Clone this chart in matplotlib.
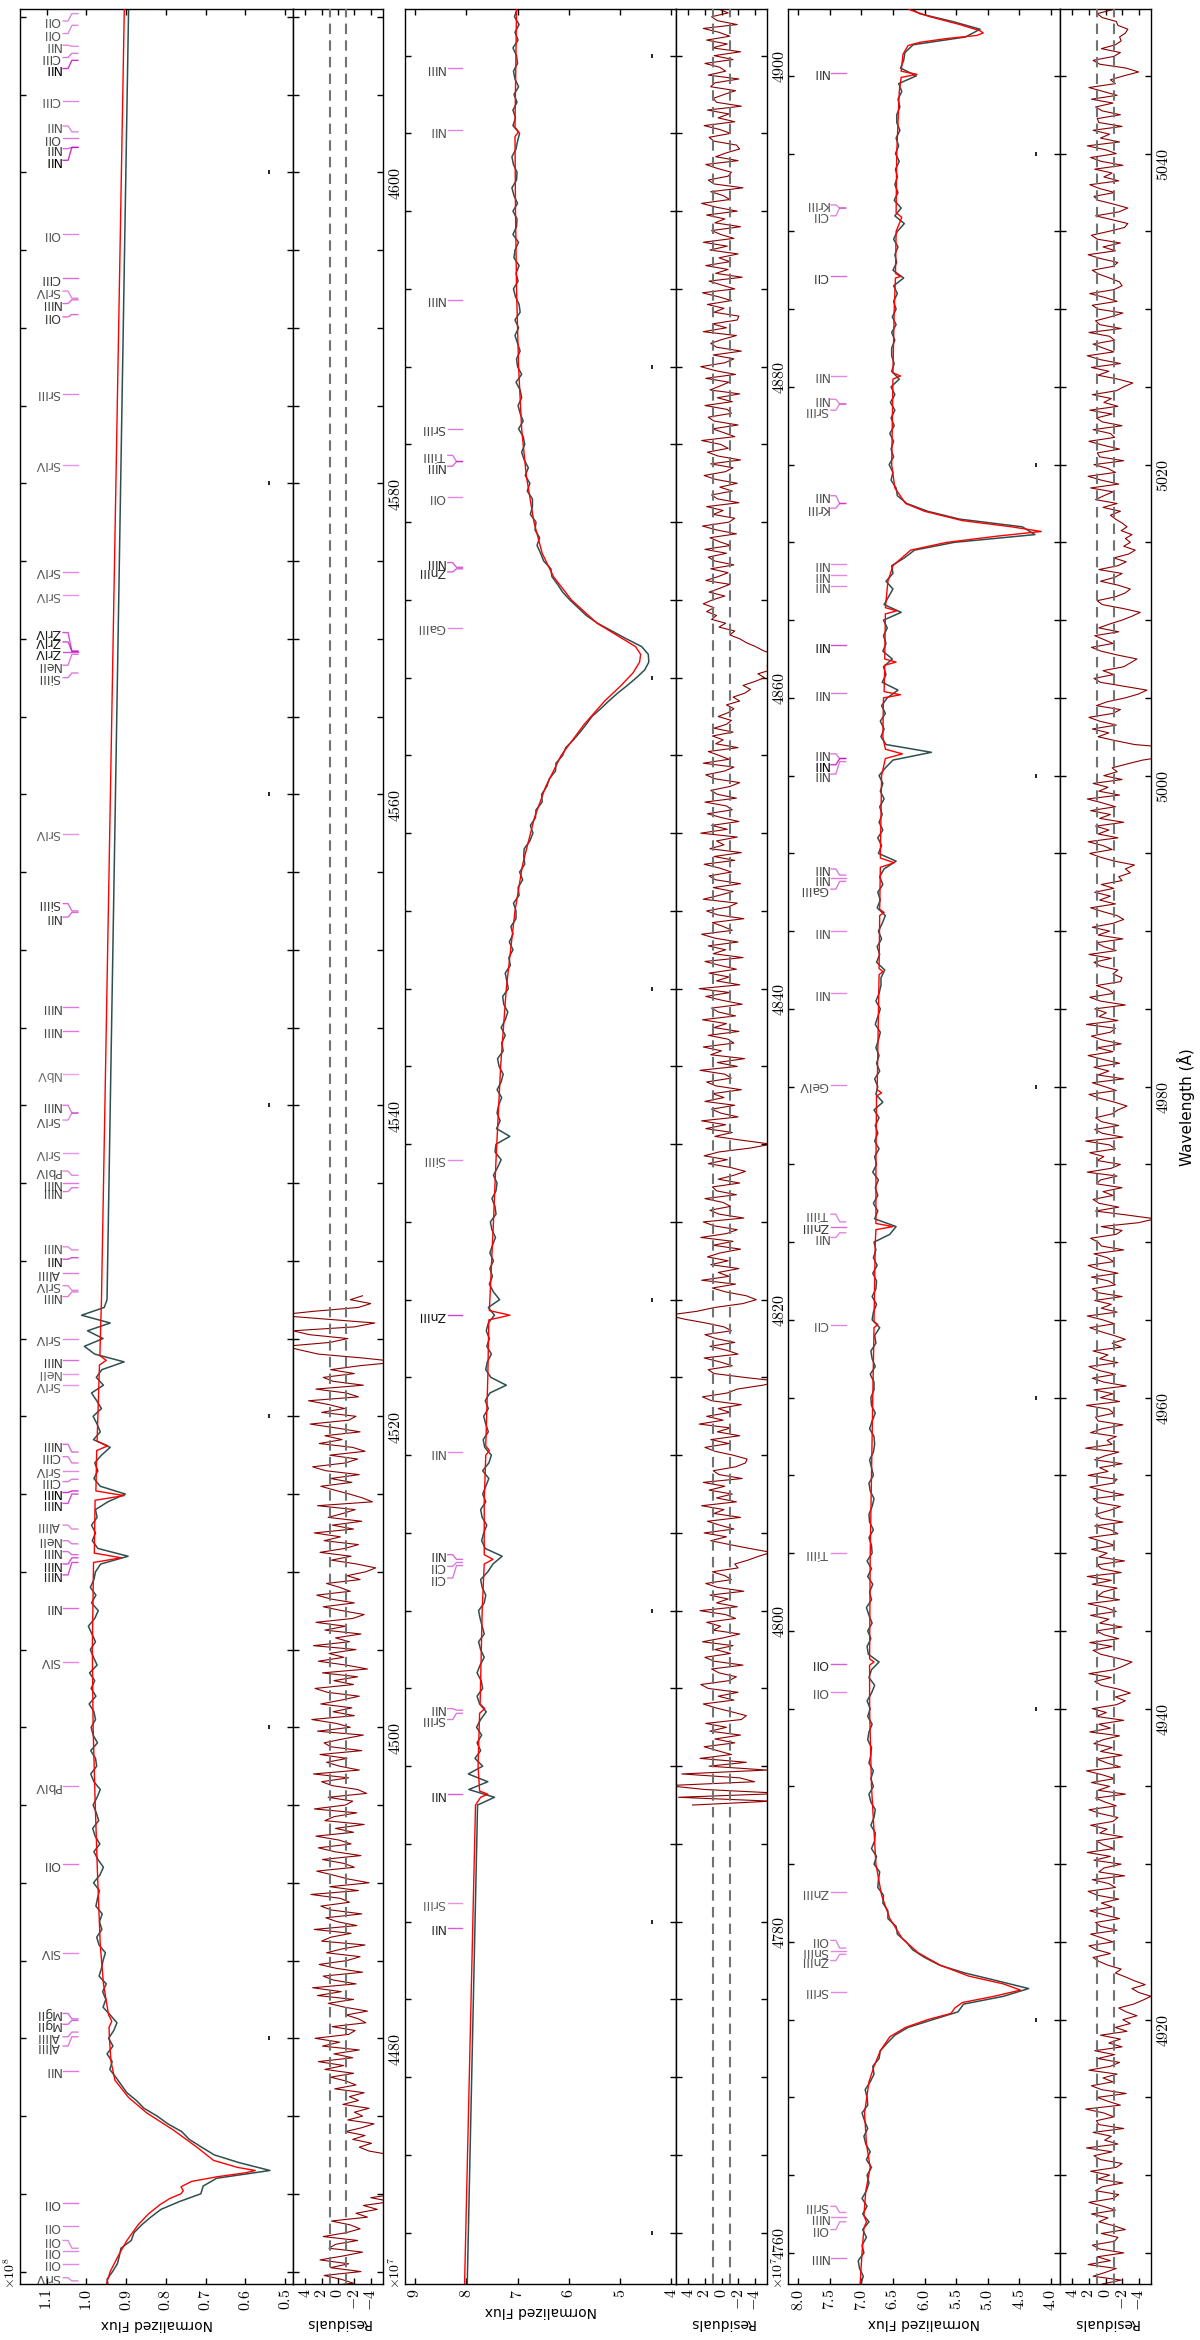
"""Spectrum fit figure: observed flux, model and residuals in three wavelength windows,
laid out in portrait (wavelength runs upwards, flux increases to the left)."""

import numpy as np
import matplotlib

matplotlib.use("Agg")
import matplotlib.pyplot as plt
import matplotlib.transforms as mtransforms
from matplotlib.ticker import MultipleLocator, FuncFormatter

plt.rcParams["font.family"] = ["DejaVu Sans"]
plt.rcParams["mathtext.fontset"] = "cm"

OBS_COLOR = "#2f4f4f"
MODEL_COLOR = "red"
RES_COLOR = "#8b0000"
ID_COLOR = "m"
FLUX_UNIT = 1e7

# wavelength window (A) and flux limits (FLUX_UNIT, left edge -> right edge) per panel
PANEL_WL = [(4464.2, 4610.5), (4756.7, 4903.0), (4903.0, 5049.3)]
FLUX_LIM = [(11.67, 4.80), (9.195, 3.91), (8.163, 3.853)]
FLUX_TICK = [1.0, 1.0, 0.5]
RES_LIM = (5.5, -5.5)

# model spectrum (smooth), FLUX_UNIT
MODEL_WL = [
    # 4463 - 4528
    4463.0, 4464.0, 4465.0, 4466.0, 4467.0, 4468.0, 4468.7, 4469.3, 4469.7, 4470.0,
    4470.2, 4470.45, 4470.8, 4471.1, 4471.35, 4471.5, 4471.7, 4472.15, 4473.0, 4474.1,
    4475.2, 4476.2, 4477.3, 4478.5, 4480.0, 4480.7, 4481.1, 4481.5, 4483.5, 4486.0,
    4490.6, 4495.3, 4500.0, 4505.0, 4510.6, 4510.9, 4511.2, 4514.6, 4514.9, 4515.2,
    4517.8, 4518.1, 4518.4, 4523.3, 4523.6, 4523.9, 4527.5,
    # 4787 - 4903
    4787.5, 4788.0, 4788.2, 4788.4, 4790.0, 4793.4, 4793.7, 4794.0, 4800.0, 4803.0,
    4803.3, 4803.6, 4807.0, 4810.0, 4810.3, 4810.6, 4815.0, 4818.7, 4819.0, 4819.3,
    4825.0, 4829.0, 4835.0, 4840.0, 4845.0, 4848.0, 4851.0, 4853.0, 4855.0, 4857.0,
    4858.5, 4859.5, 4860.3, 4861.0, 4861.5, 4862.0, 4862.7, 4863.5, 4865.0, 4866.5,
    4868.0, 4870.0, 4873.0, 4876.0, 4880.0, 4885.0, 4890.0, 4894.8, 4895.1, 4895.4,
    # 4903 - 5050
    4903.0, 4905.0, 4906.6, 4907.0, 4907.4, 4909.0, 4910.5, 4912.0, 4914.0, 4916.0,
    4917.0, 4918.0, 4918.9, 4919.5, 4920.0, 4920.4, 4920.75, 4921.1, 4921.5, 4921.9,
    4922.3, 4922.8, 4923.5, 4924.3, 4925.2, 4926.5, 4928.0, 4930.0, 4935.0, 4940.0,
    4942.8, 4943.0, 4943.2, 4950.0, 4955.0, 4960.0, 4964.5, 4964.7, 4964.9, 4970.0,
    4970.8, 4971.0, 4971.2, 4975.0, 4979.4, 4979.6, 4979.8, 4985.0, 4987.2, 4987.4,
    4987.6, 4991.0, 4991.2, 4991.4, 4994.1, 4994.4, 4994.7, 5000.0, 5001.1, 5001.4,
    5001.7, 5002.5, 5005.0, 5005.2, 5005.4, 5007.1, 5007.3, 5007.5, 5010.4, 5010.6,
    5010.8, 5012.5, 5013.5, 5014.5, 5015.0, 5015.4, 5015.7, 5016.0, 5016.4, 5017.0,
    5017.5, 5018.5, 5020.0, 5023.0, 5025.5, 5025.7, 5025.9, 5030.0, 5032.0, 5032.1,
    5032.3, 5035.0, 5035.9, 5036.2, 5040.0, 5044.0, 5044.9, 5045.1, 5045.3, 5046.4,
    5046.95, 5047.16, 5047.4, 5047.6, 5047.76, 5047.9, 5048.3, 5048.8, 5049.24, 5050.0,
]
MODEL_FLUX = [
    9.56, 9.52, 9.40, 9.20, 8.98, 8.70, 8.44, 8.15, 7.90, 7.62,
    7.56, 7.62, 7.35, 6.70, 6.00, 5.75, 6.20, 6.80, 7.22, 7.81,
    8.48, 8.94, 9.28, 9.38, 9.42, 9.43, 9.36, 9.44, 9.57, 9.65,
    9.72, 9.78, 9.83, 9.85, 9.82, 9.12, 9.80, 9.78, 9.05, 9.76,
    9.74, 9.46, 9.73, 9.67, 9.50, 9.66, 9.62,
    7.82, 7.72, 7.58, 7.74, 7.77, 7.74, 7.64, 7.73, 7.69, 7.65,
    7.48, 7.65, 7.65, 7.62, 7.55, 7.62, 7.58, 7.56, 7.15, 7.55,
    7.47, 7.42, 7.33, 7.22, 7.05, 6.90, 6.67, 6.45, 6.15, 5.70,
    5.30, 4.98, 4.75, 4.62, 4.60, 4.70, 5.05, 5.45, 5.95, 6.30,
    6.52, 6.68, 6.83, 6.92, 6.98, 7.02, 7.04, 7.05, 6.98, 7.05,
    7.02, 6.99, 6.96, 6.92, 6.96, 6.93, 6.86, 6.92, 6.95, 6.88,
    6.80, 6.70, 6.55, 6.30, 5.95, 5.58, 5.52, 5.40, 4.90, 4.48,
    4.75, 5.30, 5.75, 6.10, 6.35, 6.55, 6.68, 6.77, 6.84, 6.87,
    6.87, 6.80, 6.87, 6.86, 6.84, 6.82, 6.80, 6.74, 6.80, 6.78,
    6.77, 6.50, 6.77, 6.77, 6.76, 6.68, 6.75, 6.73, 6.72, 6.66,
    6.72, 6.71, 6.64, 6.71, 6.70, 6.48, 6.70, 6.68, 6.62, 6.35,
    6.62, 6.66, 6.65, 6.38, 6.64, 6.63, 6.45, 6.63, 6.62, 6.44,
    6.62, 6.58, 6.50, 6.22, 5.65, 4.85, 4.15, 4.62, 5.40, 6.00,
    6.30, 6.47, 6.52, 6.51, 6.50, 6.38, 6.50, 6.48, 6.46, 6.38,
    6.46, 6.45, 6.36, 6.45, 6.44, 6.40, 6.37, 6.12, 6.37, 6.34,
    6.26, 6.07, 5.65, 5.17, 5.07, 5.12, 5.44, 5.91, 6.23, 6.45,
]

# observed spectrum, two stretches sampled every 0.5 A (FLUX_UNIT)
OBS_STEP = 0.5
OBS_A_START = 4463.0
OBS_A = [
    9.54, 9.59, 9.44, 9.48, 9.34, 9.22, 9.17, 9.13, 8.87, 8.80,
    8.61, 8.38, 8.12, 7.66, 7.12, 7.06, 6.72, 5.38, 6.15, 6.78,
    7.10, 7.41, 7.60, 7.95, 8.22, 8.55, 8.74, 8.98, 9.12, 9.26,
    9.41, 9.35, 9.48, 9.33, 9.44, 9.31, 9.23, 9.40, 9.58, 9.51,
    9.59, 9.50, 9.68, 9.62, 9.58, 9.52, 9.68, 9.74, 9.61, 9.67,
    9.60, 9.76, 9.72, 9.67, 9.82, 9.66, 9.57, 9.71, 9.81, 9.66,
    9.78, 9.84, 9.69, 9.75, 9.83, 9.73, 9.65, 9.81, 9.89, 9.74,
    9.77, 9.89, 9.72, 9.83, 9.88, 9.77, 9.81, 9.93, 9.76, 9.88,
    9.79, 9.92, 9.73, 9.82, 9.90, 9.77, 9.86, 9.95, 9.79, 9.70,
    9.87, 9.76, 9.90, 9.81, 9.77, 9.64, 8.95, 9.71, 9.85, 9.77,
    9.87, 9.73, 9.77, 9.46, 9.02, 9.65, 9.81, 9.71, 9.79, 9.62,
    9.40, 9.82, 9.65, 9.73, 9.83, 9.62, 9.74, 9.87, 9.57, 9.75,
    9.61, 9.05, 9.79, 10.05, 9.58, 9.97, 9.40, 10.12, 9.55, 9.48,
]
OBS_B_START = 4787.5
OBS_B = [
    7.78, 7.45, 7.95, 7.58, 7.96, 7.68, 7.83, 7.72, 7.79, 7.70,
    7.80, 7.72, 7.61, 7.74, 7.79, 7.68, 7.71, 7.79, 7.73, 7.65,
    7.72, 7.76, 7.65, 7.69, 7.73, 7.76, 7.65, 7.62, 7.69, 7.72,
    7.58, 7.48, 7.30, 7.63, 7.70, 7.66, 7.60, 7.69, 7.72, 7.62,
    7.68, 7.62, 7.56, 7.68, 7.56, 7.51, 7.64, 7.67, 7.57, 7.62,
    7.66, 7.57, 7.63, 7.54, 7.22, 7.52, 7.62, 7.59, 7.51, 7.60,
    7.55, 7.61, 7.57, 7.45, 7.57, 7.35, 7.47, 7.55, 7.49, 7.54,
    7.47, 7.54, 7.49, 7.43, 7.50, 7.53, 7.42, 7.44, 7.50, 7.42,
    7.40, 7.47, 7.39, 7.32, 7.44, 7.42, 7.15, 7.41, 7.34, 7.40,
    7.37, 7.31, 7.40, 7.32, 7.28, 7.36, 7.39, 7.28, 7.31, 7.24,
    7.32, 7.24, 7.19, 7.27, 7.29, 7.18, 7.21, 7.24, 7.14, 7.17,
    7.09, 7.16, 7.09, 7.13, 7.03, 7.03, 7.08, 6.97, 6.99, 6.90,
    6.96, 6.86, 6.88, 6.87, 6.76, 6.70, 6.75, 6.65, 6.64, 6.52,
    6.53, 6.43, 6.38, 6.26, 6.25, 6.12, 6.06, 5.91, 5.78, 5.66,
    5.55, 5.38, 5.22, 5.05, 4.86, 4.68, 4.52, 4.44, 4.45, 4.58,
    4.88, 5.16, 5.44, 5.66, 5.82, 5.98, 6.12, 6.22, 6.33, 6.35,
    6.49, 6.55, 6.62, 6.57, 6.66, 6.64, 6.75, 6.71, 6.71, 6.81,
    6.76, 6.85, 6.79, 6.87, 6.92, 6.86, 6.89, 6.98, 6.89, 6.95,
    6.99, 6.92, 6.95, 7.03, 6.92, 7.00, 7.02, 6.95, 7.00, 7.05,
    6.98, 7.05, 6.95, 6.97, 7.04, 7.08, 6.99, 7.03, 6.97, 7.07,
    7.05, 6.98, 7.09, 7.02, 7.01, 7.09, 7.00, 7.07, 7.11, 7.02,
    7.01, 7.08, 7.11, 7.03, 7.00, 6.96, 7.09, 7.04, 7.09, 7.01,
    7.07, 6.98, 7.05, 7.08, 7.00, 7.02, 7.09, 6.99, 7.05, 6.97,
    7.06, 7.01, 6.97, 7.03, 7.05, 6.96, 6.99, 6.92, 6.98, 6.88,
    6.98, 6.91, 6.99, 6.92, 6.88, 6.91, 6.84, 6.92, 6.86, 6.93,
    6.96, 6.90, 6.95, 6.99, 6.90, 6.91, 6.94, 6.86, 6.80, 6.82,
    6.72, 6.70, 6.59, 6.47, 6.26, 5.87, 5.47, 5.38, 4.75, 4.35,
    4.85, 5.36, 5.76, 6.00, 6.19, 6.29, 6.43, 6.45, 6.58, 6.58,
    6.66, 6.65, 6.74, 6.73, 6.71, 6.80, 6.76, 6.84, 6.79, 6.78,
    6.85, 6.80, 6.78, 6.85, 6.88, 6.81, 6.85, 6.81, 6.88, 6.85,
    6.84, 6.90, 6.88, 6.83, 6.90, 6.86, 6.91, 6.84, 6.79, 6.88,
    6.84, 6.72, 6.89, 6.91, 6.85, 6.90, 6.83, 6.88, 6.92, 6.84,
    6.87, 6.82, 6.90, 6.84, 6.91, 6.83, 6.84, 6.88, 6.81, 6.87,
    6.88, 6.83, 6.80, 6.86, 6.88, 6.81, 6.84, 6.87, 6.81, 6.79,
    6.80, 6.87, 6.83, 6.78, 6.84, 6.85, 6.80, 6.80, 6.86, 6.78,
    6.83, 6.85, 6.77, 6.79, 6.71, 6.83, 6.81, 6.76, 6.83, 6.77,
    6.76, 6.82, 6.75, 6.81, 6.77, 6.80, 6.55, 6.45, 6.79, 6.74,
    6.81, 6.74, 6.78, 6.73, 6.82, 6.76, 6.79, 6.72, 6.79, 6.74,
    6.78, 6.72, 6.80, 6.66, 6.77, 6.74, 6.79, 6.71, 6.76, 6.72,
    6.77, 6.73, 6.70, 6.78, 6.74, 6.70, 6.77, 6.72, 6.69, 6.69,
    6.63, 6.76, 6.71, 6.75, 6.68, 6.73, 6.67, 6.62, 6.75, 6.70,
    6.74, 6.66, 6.71, 6.64, 6.45, 6.73, 6.68, 6.74, 6.66, 6.72,
    6.67, 6.71, 6.64, 6.70, 6.66, 6.72, 6.62, 6.50, 5.89, 6.61,
    6.69, 6.64, 6.70, 6.62, 6.68, 6.59, 6.42, 6.67, 6.61, 6.65,
    6.51, 6.66, 6.61, 6.65, 6.59, 6.65, 6.37, 6.64, 6.57, 6.50,
    6.61, 6.50, 6.52, 6.32, 6.16, 5.53, 4.25, 4.45, 5.45, 5.95,
    6.28, 6.43, 6.45, 6.53, 6.50, 6.56, 6.49, 6.53, 6.49, 6.55,
    6.48, 6.53, 6.47, 6.54, 6.47, 6.53, 6.40, 6.52, 6.48, 6.52,
    6.52, 6.47, 6.52, 6.45, 6.51, 6.45, 6.49, 6.43, 6.49, 6.33,
    6.50, 6.44, 6.47, 6.42, 6.49, 6.43, 6.32, 6.47, 6.37, 6.48,
    6.42, 6.47, 6.43, 6.46, 6.40, 6.46, 6.41, 6.45, 6.39, 6.44,
    6.44, 6.39, 6.42, 6.36, 6.41, 6.13, 6.38, 6.33, 6.31, 6.18,
    5.35, 5.12, 5.56, 6.08, 6.28, 6.48,
]

# normalised residuals, sampled every 0.25 A from the same start points
RES_STEP = 0.25
RES_A = [
    0.6, -2.1, 1.4, -0.8, 2.6, -1.9, -0.4, 1.7, -2.8, 0.9, -1.3, 2.2, -0.6, -3.0, 1.1, 0.3, -2.4, 1.8, -1.0, -2.7,
    -1.5, 0.8, -3.6, -2.2, -4.8, -3.1, -6.5, -4.0, -7.2, -8.5, -9.0, -7.8, -8.8, -6.0, -7.5, -9.5, -10.0, -8.0, -6.5, -3.8,
    -2.6, -4.1, -1.8, -3.3, -0.9, -2.9, -4.4, -1.2, -3.0, -2.0, -3.8, -0.6, -2.5, -1.4, -3.2, 0.4, -2.2, -1.0, 0.9, -1.9,
    1.6, -0.7, 2.4, -1.8, 0.5, -2.6, 1.9, -0.2, 2.8, -1.3, -2.1, 0.7, -3.4, -2.5, -1.0, -3.6, -0.8, 1.2, -1.9, 2.5,
    -0.4, 3.1, -2.2, 0.6, 1.8, -3.0, 0.2, 2.3, -1.1, -2.7, 1.4, -0.5, -3.3, 2.0, 0.9, -1.6, 2.9, -2.3, 0.1, 1.5,
    -2.9, 0.8, 2.1, -1.4, -0.3, 3.3, -2.5, 1.0, -3.8, -1.2, 0.6, 2.6, -2.0, -0.7, 1.9, -2.8, 0.4, 2.4, -1.6, -0.1,
    2.7, -1.9, 0.3, -3.2, 1.6, 0.5, -2.3, 2.9, -0.9, -1.8, 1.2, -3.5, -2.4, 0.7, 2.0, -1.3, 3.0, -2.6, -0.2, 1.4,
    -1.1, 2.2, -2.9, 0.9, 1.7, -0.6, -3.1, 2.5, -1.5, 0.2, 3.2, -2.0, 0.6, -1.7, 2.1, -0.4, -2.6, 1.3, 2.8, -1.9,
    0.5, -2.4, 1.9, -3.6, -1.0, 2.4, -0.7, 1.1, -2.2, 3.0, -1.4, 0.3, -2.8, 1.6, -0.9, 2.7, -1.8, -3.2, -0.5, 1.8,
    -2.0, 0.9, 2.6, -1.5, -0.2, 1.4, -2.7, -1.1, -3.4, -4.6, -2.3, 0.8, -1.6, 2.2, -0.8, -2.5, 1.7, -0.3, 2.9, -1.9,
    0.7, -2.9, 1.2, -0.6, -2.1, 2.5, -4.2, -3.0, -1.4, 0.4, 2.1, -1.7, 0.9, -2.6, 1.5, 3.1, -0.9, -2.4, 1.0, -3.3,
    -1.8, 2.3, -0.5, 1.6, -2.7, 0.2, 3.4, -1.3, -2.2, 2.0, -0.8, 1.1, 3.6, -2.5, -1.0, 2.7, -3.1, 0.6, 1.8, -2.0,
    0.9, -2.6, -7.5, -3.0, 2.4, 4.5, 6.5, 1.0, -1.2, 3.5, 5.5, -2.0, -4.5, 1.5, 7.5, 3.0, -2.5, -4.0, -1.5, -3.0,
]
RES_B = [
    3.5, -6.0, 5.2, -7.5, 2.0, 6.5, -4.0, -2.2, 4.8, -5.5, 1.5, -3.0, 2.6, -1.2, 0.5, 2.1, -1.6, 0.8, -2.3, 1.4,
    -0.6, 1.9, -2.4, -3.0, -1.2, 0.7, 2.2, -1.5, 0.4, -2.0, 1.6, 2.5, -0.9, -1.8, 0.3, 1.2, -2.6, 0.9, 2.0, -1.1,
    0.8, -1.4, 2.3, -0.2, -2.2, 1.0, 0.1, 1.8, -1.7, -0.5, 2.6, -1.9, 0.6, -0.8, 1.4, -2.7, 0.5, 1.9, -1.2, -0.4,
    1.1, -2.0, -1.6, -3.2, -4.5, -6.0, -3.4, -1.0, 1.3, -0.6, 2.1, -1.5, 0.2, 1.7, -2.3, 0.9, -0.3, 2.4, -1.8, 0.6,
    -1.3, 1.5, -0.4, 2.2, -2.5, 0.3, 1.0, -1.7, -2.9, -3.1, -1.4, 0.8, 2.0, -0.9, 1.3, -2.2, 0.5, -1.1, 2.7, -0.2,
    1.8, -1.0, 0.4, -2.4, 1.2, 2.3, -0.7, -1.9, -5.0, -7.0, -2.8, 0.9, 1.6, -1.3, 0.2, 2.1, -2.0, -0.6, 1.4, -1.6,
    0.7, 2.0, -1.2, -0.3, 1.9, 4.5, 6.5, 3.0, 0.8, -2.6, -4.2, -3.0, -0.5, 1.1, -1.7, 2.4, -0.9, 0.4, -2.1, 1.3,
    -0.8, 1.7, 0.2, -2.3, 1.0, -1.4, 2.5, -0.6, -1.9, 0.9, 2.2, -2.7, 0.3, 1.4, -1.1, -0.2, 2.0, -1.8, 0.6, 1.1,
    -2.2, 0.4, -1.5, -2.9, -1.1, 1.6, -0.7, 2.1, 0.3, -3.5, -6.0, -2.5, 0.8, -1.3, 1.9, -0.5, 2.4, -2.0, 0.1, 1.2,
    -1.6, 2.0, -0.3, 1.1, -2.4, 0.7, 1.8, -1.2, -0.4, 2.6, -1.9, 0.5, -2.8, 1.3, 0.0, 2.2, -1.5, -0.8, 1.6, -2.1,
    0.9, -0.6, 2.3, -1.7, 0.4, 1.2, -2.5, -0.1, 1.9, -1.0, 2.7, -2.2, 0.6, -0.9, 1.5, -1.8, 0.2, 2.0, -2.6, 1.0,
    -0.5, 1.6, -2.0, 0.8, 2.4, -1.3, -0.2, 1.1, -2.7, 0.5, 1.8, -0.8, -1.9, 2.2, 0.3, -1.4, 1.0, -2.3, 0.7, 1.5,
    -1.2, 0.2, 2.1, -1.6, 0.9, -2.4, 1.4, -0.3, 0.6, -1.9, 2.5, -0.7, 1.2, -2.1, 0.0, 1.7, -1.3, -0.6, 2.0, -1.8,
    0.5, 1.3, -1.0, -2.2, 0.8, 1.9, -0.4, -1.5, 2.2, -0.9, 0.3, 1.6, -2.0, 0.7, -0.2, 1.1, -1.4, 0.9, -0.6, -1.2,
    0.4, -0.8, -1.5, -0.6, -2.2, -1.4, -2.8, -3.5, -2.6, -4.0, -5.2, -4.4, -6.0, -5.5, -6.8, -7.5, -6.2, -5.0, -4.1, -3.0,
    -2.2, -1.0, -1.6, 0.3, -0.5, 1.2, 0.6, 1.8, 0.9, 2.2, 1.1, -0.4, 1.5, 0.2, -1.0, 1.9, 0.4, -0.8, 1.3, -1.5,
    0.8, 1.6, -0.6, 2.0, -1.1, 0.3, 1.4, -1.8, 0.6, 2.3, -0.9, -1.6, 1.0, -0.2, 1.8, -2.1, 0.5, 1.2, -1.3, 0.2,
    -1.9, 0.7, 2.1, -0.5, -1.4, 1.3, -2.3, 0.4, 1.7, -0.8, 0.1, 2.4, -1.6, -0.3, 1.1, -2.0, 0.9, 1.6, -1.2, -0.7,
    2.0, -1.3, 0.5, -2.2, 1.4, 0.2, -0.9, 1.9, -1.7, 0.8, 2.5, -0.4, -1.5, 1.0, -2.4, 0.6, 1.3, -0.1, -1.8, 2.2,
    -0.6, 1.1, -1.9, -2.1, 0.9, -0.3, 1.7, -1.2, 0.4, 2.3, -1.6, 0.0, 1.5, -2.5, 0.7, -0.8, 1.9, -1.0, 0.3, -2.0,
    1.4, -0.7, 2.2, -1.5, 0.1, 1.2, -2.3, 0.8, -0.4, 1.8, -1.9, 0.6, 2.4, -1.0, -0.2, 1.3, -2.6, 0.9, 1.6, -0.8,
    -1.2, 0.5, 1.9, -2.0, 0.7, -0.6, -2.2, -1.8, 0.9, 1.5, -1.1, 0.2, 2.1, -1.6, 0.4, -0.9, 1.7, -2.4, 0.6, 1.0,
    -0.3, -1.7, 1.3, 0.8, -2.1, 1.6, -0.5, 0.2, 2.0, -1.4, 0.9, -2.3, 1.1, -0.7, 1.8, -1.0, 0.3, 2.2, -1.9, 0.5,
    1.2, -0.8, 0.4, -1.9, 1.5, 0.0, -1.3, 2.1, -0.6, 1.0, -2.2, 0.7, 1.6, -1.1, -1.5, 0.5, -2.4, -1.0, 0.8, -0.3,
    1.7, -1.2, 0.3, 2.0, -0.9, -1.6, 1.2, 0.4, -2.1, 0.9, -0.5, 1.8, -1.3, -2.0, 0.6, 1.4, -0.8, 2.3, -1.5, 0.1,
    -0.7, 1.5, -2.2, 0.8, 1.1, -1.0, 0.2, 2.4, -1.8, -0.3, 1.0, -2.5, 0.5, 1.7, -0.9, 0.3, -1.4, 2.0, -0.6, -1.7,
    0.9, -1.1, 1.3, -2.0, -0.4, -1.8, 0.6, -2.6, -1.2, -3.0, -2.1, -3.8, -2.5, -1.6, -3.4, -4.5, -5.5, -4.0, -3.2, -4.8,
    -3.5, -2.4, -1.2, -1.9, -0.3, 0.8, 1.5, -0.6, 1.1, 2.0, -0.9, 0.4, 1.8, -1.4, 0.6, 1.2, -1.7, 0.2, 1.9, -0.8,
    0.5, -1.6, 1.0, 2.1, -1.2, -0.4, 1.6, -2.3, 0.8, 0.2, -1.9, 1.4, -0.6, 2.2, -1.0, 0.3, 1.1, -2.1, 0.7, -0.2,
    1.8, -0.9, -1.5, 0.6, 2.0, -1.3, 0.1, 1.2, -2.4, 0.9, -0.5, 1.7, -1.1, 0.4, 2.3, -1.8, -0.2, 1.0, -2.0, 0.6,
    -0.8, 1.4, 0.3, -1.7, 1.9, -0.6, 0.8, -2.2, 1.1, -0.1, 1.6, -1.3, -2.4, -1.2, -3.0, -1.6, 0.5, 1.3, -0.7, 2.0,
    -1.0, -2.2, -3.2, -1.4, 0.6, 1.5, -0.8, 1.9, -1.6, 0.2, 1.1, -2.0, 0.7, -0.4, 1.8, -1.3, 0.0, 2.1, -1.7, 0.9,
    0.3, -1.4, 1.6, -0.7, 2.2, -1.9, 0.5, 1.0, -2.3, 0.8, -0.2, 1.7, -1.1, 0.4, 2.0, -1.5, -0.6, 1.3, -2.1, 0.6,
    1.2, -0.5, -1.8, 0.9, 1.5, -2.2, 0.2, 1.9, -0.9, -1.4, 2.1, -0.3, 0.7, -2.0, 1.3, 0.1, -1.6, 2.4, -0.8, -0.2,
    -1.3, 1.8, 0.4, -2.1, 0.9, 1.2, -1.0, -0.4, 2.3, -1.7, 0.6, -0.9, 1.4, -2.5, 0.2, 1.6, -1.2, 0.8, 2.0, -1.5,
    0.7, -0.3, 1.5, -1.9, -0.8, -2.4, -1.0, 0.6, 1.9, -1.1, 0.3, 2.2, -1.4, 0.5, -0.7, 1.3, -2.0, 0.9, 1.6, -1.2,
    -0.4, 1.7, -1.5, 0.8, 2.1, -1.0, -0.2, 1.4, -2.2, 0.5, 0.9, 1.8, -1.3, -2.0, 0.5, -4.0, -6.0, -2.5, 1.2, -1.6,
    0.8, 1.5, -0.9, 0.3, -2.0, 1.1, 0.6, -1.4, 2.2, -0.7, -1.8, 1.0, 0.2, 1.9, -1.2, -0.5, 2.4, -2.1, 0.4, 1.3,
    -1.6, 0.5, 1.2, -0.8, -1.5, -2.6, -1.1, 0.7, 2.0, -1.3, 0.1, 1.6, -2.2, 0.9, -0.4, 1.4, -1.7, 0.3, 2.1, -0.9,
    1.0, -1.9, 0.4, 1.7, -0.6, -1.2, 2.3, -1.5, 0.8, -0.1, 1.3, -2.4, 0.6, 1.9, -1.0, -0.3, 1.1, -1.8, -2.0, -0.9,
    -1.5, 0.6, 1.4, -0.7, 2.0, -1.3, 0.2, 1.1, -2.1, 0.9, -0.5, 1.6, -0.9, -2.2, -1.4, 0.3, 1.8, -1.2, 0.7, -0.6,
    1.3, -1.0, 0.5, -2.0, -1.6, -3.0, -2.4, -3.5, -1.1, 0.6, 1.9, -0.8, 0.3, 2.1, -1.5, 0.9, -0.4, 1.2, -2.2, 0.7,
    -0.6, 1.8, -1.2, 0.4, 2.2, -1.7, 0.8, -0.3, 1.5, -2.0, 0.2, -1.4, -0.8, -2.6, -4.5, -7.5, -12.0, -9.0, -3.5, -1.2,
    0.9, -0.4, 1.6, -1.3, 0.7, 2.0, -0.9, -1.8, 1.1, -0.2, -2.4, -4.0, -5.0, -2.2, 0.6, 1.4, -1.0, 0.3, -2.2, -3.0,
    -3.8, -1.5, 0.5, 1.7, -0.9, 0.2, 1.3, -1.6, 0.8, -0.5, -2.0, -3.2, -4.2, -2.1, 0.4, 1.0, -1.2, -2.4, -3.0, -1.5,
    0.6, -1.1, -2.0, 0.8, -1.5, -2.5, -1.0, -2.8, -3.6, -2.2, -3.0, -2.4, -3.2, -1.9, -2.6, -2.0, -1.2, -0.6, -1.8, 0.3,
    -1.4, 1.2, 0.2, -0.9, 1.8, -1.6, 0.5, 2.1, -1.2, -0.3, 1.4, -2.2, 0.7, 1.0, -1.7, 0.3, 2.0, -1.1, -0.6, 1.5,
    -2.0, 0.4, 1.1, -0.8, 1.9, -1.5, 0.2, -0.7, 1.6, -1.3, -2.2, -3.3, -1.5, 0.9, -0.4, 1.7, -1.8, 0.6, 2.2, -1.0,
    0.3, 1.5, -1.1, -0.5, 2.0, -1.9, 0.7, 1.2, -0.6, -2.1, 0.9, 1.6, -1.4, 0.1, 1.9, -1.0, -2.0, -1.7, -0.5, 0.8,
    1.6, -0.9, -1.5, 0.6, 2.1, -1.2, 0.3, -1.8, 1.0, 1.7, -0.4, -2.3, -2.7, -0.8, 1.2, -1.6, -2.7, -1.0, 0.9, 1.4,
    -1.1, 0.7, 1.9, -1.6, 0.2, -0.8, 1.3, -2.1, 0.5, 1.8, -1.3, 0.0, 2.2, -1.7, 0.6, -0.5, 1.5, -2.0, 0.8, 1.0,
    -1.8, 0.4, 1.2, -0.9, 1.7, -1.4, 0.3, 2.0, -1.2, -0.6, -2.2, -4.0, -2.5, 0.7, 1.5, -1.0, -1.8, 0.5, -1.2, -1.9,
    -1.7, -2.4, -2.7, -1.5, -1.3, 0.4, 1.0, -0.8, 0.6, 1.3, -0.5,
]

# line identifications: ion, line wavelength, label position, label strength
LINE_ION = [
    "OII", "OII", "NII", "CIII", "NII", "CIII", "NII", "OII", "NII", "NII",
    "OII", "CIII", "SrIV", "NIII", "OII", "SrIII", "SrIV", "SrIV", "SrIV", "ZrIV",
    "ZrIV", "ZrIV", "NeII", "SiIII", "SrIV", "SiIII", "NII", "NIII", "NIII", "NbV",
    "NIII", "SrIV", "SrIV", "PbIV", "NIII", "NIII", "NIII", "NII", "AlIII", "SrIV",
    "NIII", "SrIV", "NIII", "NeII", "SrIV", "NIII", "CIII", "SrIV", "CIII", "NIII",
    "NIII", "AlIII", "NeII", "NIII", "NIII", "NIII", "NII", "SIV", "PbIV", "OII",
    "SIV", "MgII", "MgII", "AlIII", "AlIII", "NII", "OII", "OII", "OII", "OII",
    "OII", "SrIV",
    "NIII", "NII", "NIII", "SrIII", "TiIII", "NIII", "OII", "NIII", "ZnIII", "GaIII",
    "SiIII", "ZnIII", "NII", "NII", "CII", "CII", "NII", "SrIII", "NII", "SrIII",
    "NII",
    "NII", "KrIII", "CII", "CII", "NII", "NII", "SrIII", "NII", "KrIII", "NII",
    "NII", "NII", "NII", "NII", "NII", "NII", "NII", "NII", "NII", "GaIII",
    "NII", "NII", "GeIV", "TiIII", "ZnIII", "NII", "CII", "TiIII", "OII", "OII",
    "ZnIII", "OII", "SnIII", "ZnIII", "SrIII", "SrIII", "NIII", "OII", "NIII",
]
LINE_WL = [
    4610.2, 4609.45, 4608.1, 4607.65, 4607.2, 4604.6, 4602.6, 4602.2, 4601.6, 4601.6,
    4596.0, 4593.2, 4591.9, 4591.8, 4590.85, 4585.75, 4581.2, 4574.3, 4572.8, 4569.2,
    4569.2, 4569.15, 4569.0, 4567.8, 4557.45, 4552.5, 4552.4, 4546.3, 4544.8, 4542.0,
    4539.5, 4539.5, 4536.9, 4535.5, 4535.0, 4534.7, 4530.7, 4530.2, 4529.2, 4528.1,
    4528.0, 4525.0, 4523.6, 4522.75, 4522.0, 4517.7, 4517.0, 4516.5, 4515.95, 4515.2,
    4515.0, 4512.75, 4511.8, 4511.1, 4510.9, 4510.6, 4507.7, 4504.2, 4496.2, 4491.2,
    4485.5, 4481.25, 4481.15, 4480.4, 4480.1, 4477.9, 4469.4, 4467.9, 4466.5, 4466.3,
    4465.5, 4464.4,
    4899.2, 4895.2, 4884.3, 4876.0, 4873.9, 4873.9, 4871.6, 4867.1, 4867.0, 4863.2,
    4829.0, 4819.0, 4810.2, 4803.3, 4803.1, 4802.9, 4793.6, 4793.4, 4788.2, 4781.2,
    4779.6,
    5045.2, 5036.5, 5036.5, 5032.1, 5025.7, 5023.9, 5023.9, 5017.5, 5017.5, 5013.6,
    5012.9, 5012.2, 5008.4, 5005.3, 5001.1, 5001.1, 5000.9, 4993.6, 4993.4, 4993.2,
    4990.0, 4986.0, 4980.1, 4971.3, 4971.0, 4970.6, 4964.7, 4950.0, 4942.9, 4941.1,
    4928.2, 4924.6, 4924.4, 4924.2, 4921.8, 4907.6, 4907.3, 4907.0, 4904.7,
]
LINE_LABEL_WL = [
    4609.73, 4608.92, 4608.17, 4607.38, 4606.67, 4604.6, 4602.98, 4602.2, 4601.52, 4600.77,
    4596.0, 4593.2, 4592.36, 4591.56, 4590.7, 4585.75, 4581.2, 4574.3, 4572.8, 4570.4,
    4569.8, 4569.15, 4568.3, 4567.5, 4557.45, 4552.97, 4552.1, 4546.3, 4544.8, 4542.0,
    4540.0, 4539.05, 4536.9, 4535.77, 4535.0, 4534.45, 4530.9, 4530.1, 4529.2, 4528.4,
    4527.7, 4525.0, 4523.6, 4522.75, 4522.0, 4518.2, 4517.4, 4516.5, 4515.8, 4515.1,
    4514.4, 4513.0, 4512.0, 4511.3, 4510.5, 4509.8, 4507.7, 4504.2, 4496.2, 4491.2,
    4485.5, 4481.6, 4480.9, 4480.1, 4479.5, 4477.9, 4469.4, 4467.9, 4467.0, 4466.3,
    4465.5, 4464.6,
    4899.2, 4895.2, 4884.3, 4876.0, 4874.3, 4873.6, 4871.6, 4867.4, 4866.8, 4863.2,
    4829.0, 4819.0, 4810.2, 4803.6, 4802.85, 4802.1, 4793.7, 4793.0, 4788.2, 4781.2,
    4779.6,
    5045.2, 5036.7, 5036.0, 5032.1, 5025.7, 5024.2, 5023.5, 5018.0, 5017.2, 5013.6,
    5012.9, 5012.2, 5008.4, 5005.3, 5001.4, 5000.7, 5000.1, 4994.0, 4993.4, 4992.7,
    4990.0, 4986.0, 4980.1, 4971.8, 4971.0, 4970.3, 4964.7, 4950.0, 4942.9, 4941.1,
    4928.2, 4925.1, 4924.4, 4923.8, 4921.8, 4908.0, 4907.3, 4906.5, 4904.7,
]
LINE_ALPHA = [
    0.4, 0.4, 0.4, 0.5, 1.0, 0.4, 0.4, 0.5, 0.6, 1.0,
    0.4, 0.6, 0.4, 0.6, 0.6, 0.4, 0.3, 0.4, 0.3, 0.8,
    0.8, 0.8, 0.5, 0.5, 0.3, 0.6, 0.6, 0.5, 0.5, 0.2,
    0.5, 0.4, 0.3, 0.4, 0.5, 0.5, 0.4, 0.8, 0.5, 0.4,
    0.5, 0.4, 0.6, 0.3, 0.3, 0.6, 0.5, 0.4, 0.5, 1.0,
    0.8, 0.4, 0.5, 0.6, 0.8, 0.8, 0.6, 0.4, 0.4, 0.5,
    0.4, 0.6, 0.6, 0.5, 0.5, 0.5, 0.5, 0.4, 0.4, 0.4,
    0.4, 0.4,
    0.5, 0.4, 0.5, 0.5, 0.5, 0.6, 0.4, 0.7, 0.7, 0.4,
    0.4, 0.9, 0.4, 0.6, 0.5, 0.5, 0.5, 0.5, 0.7, 0.3,
    0.7,
    0.6, 0.4, 0.4, 0.6, 0.4, 0.4, 0.4, 0.5, 0.5, 0.4,
    0.4, 0.4, 0.8, 0.5, 0.5, 1.0, 0.5, 0.5, 0.5, 0.5,
    0.4, 0.4, 0.4, 0.4, 0.6, 0.4, 0.4, 0.4, 0.7, 0.4,
    0.4, 0.4, 0.4, 0.4, 0.4, 0.4, 0.4, 0.4, 0.5,
]

# figure geometry in pixels (portrait page)
FIG_W, FIG_H = 1200, 2340
AX_BOTTOM, AX_HEIGHT = 56, 2275
FLUX_X = [20, 405, 788]
FLUX_W = [273, 271, 272]
RES_W = [90, 91, 91]

obs_wl_a = OBS_A_START + OBS_STEP * np.arange(len(OBS_A))
obs_wl_b = OBS_B_START + OBS_STEP * np.arange(len(OBS_B))
obs_wl = np.concatenate([obs_wl_a, obs_wl_b])
obs_flux = np.concatenate([OBS_A, OBS_B]) * FLUX_UNIT
res_wl_a = OBS_A_START + RES_STEP * np.arange(len(RES_A))
res_wl_b = OBS_B_START + RES_STEP * np.arange(len(RES_B))
model_wl = np.asarray(MODEL_WL)
model_flux = np.asarray(MODEL_FLUX) * FLUX_UNIT

wl_fmt = FuncFormatter(lambda v, pos: f"${v:.0f}$")
res_fmt = FuncFormatter(lambda v, pos: f"${v:g}$")


def flux_formatter(scale, decimals):
    return FuncFormatter(lambda v, pos: f"${v / scale:.{decimals}f}$")


fig = plt.figure(figsize=(FIG_W / 100, FIG_H / 100), dpi=100)

for i, (lo, hi) in enumerate(PANEL_WL):
    y0, h = AX_BOTTOM / FIG_H, AX_HEIGHT / FIG_H
    axf = fig.add_axes([FLUX_X[i] / FIG_W, y0, FLUX_W[i] / FIG_W, h])
    axr = fig.add_axes([(FLUX_X[i] + FLUX_W[i]) / FIG_W, y0, RES_W[i] / FIG_W, h], sharey=axf)

    axf.plot(obs_flux, obs_wl, color=OBS_COLOR, lw=1.1, zorder=2)
    axf.plot(model_flux, model_wl, color=MODEL_COLOR, lw=1.0, zorder=3)
    axr.plot(RES_A, res_wl_a, color=RES_COLOR, lw=0.8, zorder=2)
    axr.plot(RES_B, res_wl_b, color=RES_COLOR, lw=0.8, zorder=2)
    for v in (1, -1):
        axr.axvline(v, color="0.45", ls=(0, (5, 3)), lw=1.5, zorder=3)

    axf.set_ylim(lo, hi)
    flux_hi = FLUX_LIM[i][0] * FLUX_UNIT
    axf.set_xlim(flux_hi, FLUX_LIM[i][1] * FLUX_UNIT)
    axr.set_xlim(*RES_LIM)

    # flux ticks carry a common power of ten, shown separately
    oom = int(np.floor(np.log10(flux_hi)))
    step = FLUX_TICK[i] * FLUX_UNIT
    decimals = 0 if step / 10 ** oom >= 1 else 1
    axf.xaxis.set_major_locator(MultipleLocator(step))
    axf.xaxis.set_major_formatter(flux_formatter(10 ** oom, decimals))
    axr.xaxis.set_major_locator(MultipleLocator(2))
    axr.xaxis.set_major_formatter(res_fmt)
    axf.yaxis.set_major_locator(MultipleLocator(20))
    axf.yaxis.set_minor_locator(MultipleLocator(5))
    axf.yaxis.set_major_formatter(wl_fmt)
    for ax in (axf, axr):
        ax.tick_params(axis="both", which="both", direction="in", length=4.5, width=1,
                       top=True, bottom=True, left=True, right=True, labelsize=11.5)
        ax.tick_params(axis="x", labelrotation=90)
        for sp in ax.spines.values():
            sp.set_linewidth(1.0)
    axf.tick_params(axis="y", labelleft=False, labelright=False)
    axr.tick_params(axis="y", labelleft=False, labelright=True, labelrotation=90)

    axf.set_xlabel("Normalized Flux", rotation=180, fontsize=10)
    axr.set_xlabel("Residuals", rotation=180, fontsize=10)
    axf.text(-0.008, -0.002, rf"$\times10^{{{oom}}}$", transform=axf.transAxes,
             rotation=90, ha="right", va="bottom", fontsize=10)

    # line identifications with kinked connectors
    trans = mtransforms.blended_transform_factory(axf.transAxes, axf.transData)
    for ion, wl, lab, a in zip(LINE_ION, LINE_WL, LINE_LABEL_WL, LINE_ALPHA):
        if not lo < lab < hi:
            continue
        axf.plot([0.212, 0.19, 0.176, 0.158], [wl, wl, lab, lab], transform=trans,
                 color=ID_COLOR, lw=1.0, alpha=0.25 + 0.55 * a, zorder=1)
        axf.text(0.148, lab, ion, transform=trans, rotation=180, ha="right", va="center",
                 fontsize=9, color="k", alpha=0.45 + 0.55 * a)

    # small marks at the labelled wavelengths inside the flux panel
    majors = [t for t in axf.yaxis.get_majorticklocs() if lo <= t <= hi]
    axf.plot([0.912] * len(majors), majors, transform=trans, ls="none", marker="|",
             ms=3.5, mew=1.2, color="k")

fig.text(0.988, 0.527, "Wavelength (Å)", rotation=90, ha="center", va="center", fontsize=11)

fig.savefig("out.png", dpi=100, facecolor="white")
plt.close(fig)
